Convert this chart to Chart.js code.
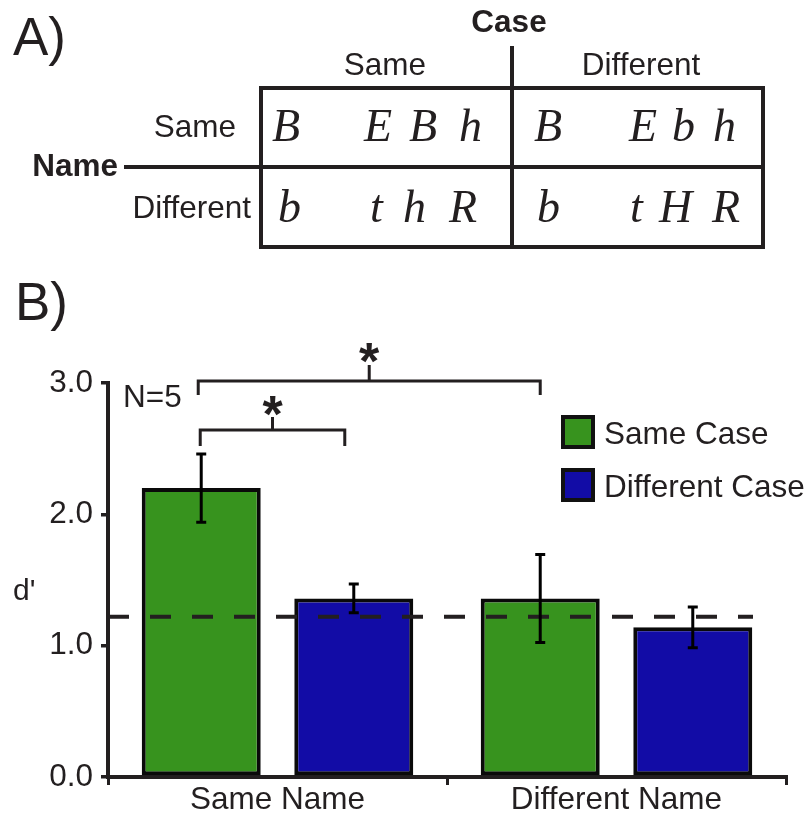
<!DOCTYPE html>
<html>
<head>
<meta charset="utf-8">
<script src="https://cdn.jsdelivr.net/npm/chart.js@4.4.0/dist/chart.umd.min.js"></script>
<style>
  html, body { margin: 0; padding: 0; background: #fff; }
  #wrap { position: relative; width: 809px; height: 814px; overflow: hidden; }
  #panelA { position: absolute; left: 0; top: 0; }
  #chart { position: absolute; left: 0; top: 0; }
</style>
</head>
<body>
<div id="wrap">
  <canvas id="chart" width="809" height="814"></canvas>
  <svg id="panelA" width="809" height="260" xmlns="http://www.w3.org/2000/svg">
    <g fill="#231F20" font-family="'Liberation Sans', Arial, Helvetica, sans-serif">
      <text x="13" y="55" font-size="53">A)</text>
      <text x="509" y="32" font-size="31.5" font-weight="bold" text-anchor="middle">Case</text>
      <text x="385" y="75" font-size="31.5" text-anchor="middle">Same</text>
      <text x="641" y="75" font-size="31.5" text-anchor="middle">Different</text>
      <text x="118" y="176" font-size="31.5" font-weight="bold" text-anchor="end">Name</text>
      <text x="236" y="137" font-size="31.5" text-anchor="end">Same</text>
      <text x="251" y="218" font-size="31.5" text-anchor="end">Different</text>
    </g>
    <g stroke="#231F20" stroke-width="4" fill="none">
      <rect x="261" y="88" width="502" height="159"/>
      <line x1="124" y1="167" x2="763" y2="167"/>
      <line x1="512" y1="46" x2="512" y2="247"/>
    </g>
    <g fill="#231F20" font-family="'Liberation Serif', 'Times New Roman', serif" font-style="italic" font-size="46">
      <text x="272" y="141">B</text>
      <text x="364" y="141">E</text>
      <text x="409" y="141">B</text>
      <text x="459" y="141">h</text>
      <text x="534" y="141">B</text>
      <text x="629" y="141">E</text>
      <text x="672" y="141">b</text>
      <text x="713" y="141">h</text>
      <text x="278" y="222">b</text>
      <text x="370" y="222">t</text>
      <text x="403" y="222">h</text>
      <text x="449" y="222">R</text>
      <text x="537" y="222">b</text>
      <text x="630" y="222">t</text>
      <text x="659" y="222">H</text>
      <text x="712" y="222">R</text>
    </g>
  </svg>
</div>
<script>
// ---- data ----
const categories = ['Same Name', 'Different Name'];
const seriesNames = ['Same Case', 'Different Case'];
const sameCaseValues = [2.2, 1.36];
const sameCaseErrors = [0.26, 0.335];
const differentCaseValues = [1.36, 1.14];
const differentCaseErrors = [0.11, 0.155];
const yTickValues = [0, 1, 2, 3];
const chanceLevel = 1.22;
const sampleSizeLabel = 'N=5';
const yAxisLabel = "d'";
const panelLabel = 'B)';
// significance comparisons: [datasetIndex, categoryIndex] pairs, bracket level in d' units
const comparisons = [
  { from: [0, 0], to: [1, 0], level: 2.64, label: '*' },
  { from: [0, 0], to: [0, 1], level: 3.015, label: '*' }
];

// ---- styles ----
const INK = '#231F20';
const FONT = "'Liberation Sans', Arial, Helvetica, sans-serif";
const FS = 31.5;
const GREEN = '#37931E';
const BLUE = '#120CA6';
const bracketStyle = [
  { legDrop: 16, stem: 13, fromShift: -1, toShift: -9, starTop: 395 },
  { legDrop: 14, stem: 16, fromShift: -3, toShift: 0, starTop: 342 }
];

const annotations = {
  id: 'annotations',
  afterDatasetsDraw(chart) {
    const ctx = chart.ctx;
    const y = chart.scales.y;
    const area = chart.chartArea;
    ctx.save();
    // chance-level dashed line
    ctx.strokeStyle = INK;
    ctx.lineWidth = 4;
    ctx.setLineDash([21, 21]);
    ctx.beginPath();
    const cy = y.getPixelForValue(chanceLevel);
    ctx.moveTo(area.left, cy);
    ctx.lineTo(753, cy);
    ctx.stroke();
    ctx.setLineDash([]);
    // error bars
    const errs = [sameCaseErrors, differentCaseErrors];
    ctx.strokeStyle = '#000';
    ctx.lineWidth = 3;
    chart.data.datasets.forEach((ds, di) => {
      const meta = chart.getDatasetMeta(di);
      meta.data.forEach((bar, i) => {
        const v = ds.data[i];
        const e = errs[di][i];
        const yt = y.getPixelForValue(v + e);
        const yb = y.getPixelForValue(v - e);
        ctx.beginPath();
        ctx.moveTo(bar.x, yt); ctx.lineTo(bar.x, yb);
        ctx.moveTo(bar.x - 5, yt); ctx.lineTo(bar.x + 5, yt);
        ctx.moveTo(bar.x - 5, yb); ctx.lineTo(bar.x + 5, yb);
        ctx.stroke();
      });
    });
    ctx.restore();
  },
  afterDraw(chart) {
    const ctx = chart.ctx;
    const y = chart.scales.y;
    ctx.save();
    ctx.fillStyle = INK;
    ctx.textBaseline = 'alphabetic';
    // panel label
    ctx.font = '53px ' + FONT;
    ctx.textAlign = 'left';
    ctx.fillText(panelLabel, 15, 320);
    // y label
    ctx.font = '30px ' + FONT;
    ctx.fillText(yAxisLabel, 13, 600);
    // N
    ctx.font = FS + 'px ' + FONT;
    ctx.fillText(sampleSizeLabel, 123, 407);
    // significance brackets
    ctx.strokeStyle = INK;
    ctx.lineWidth = 3;
    comparisons.forEach((c, k) => {
      const st = bracketStyle[k];
      const b1 = chart.getDatasetMeta(c.from[0]).data[c.from[1]];
      const b2 = chart.getDatasetMeta(c.to[0]).data[c.to[1]];
      const x1 = b1.x + st.fromShift, x2 = b2.x + st.toShift;
      const ly = Math.round(y.getPixelForValue(c.level));
      const xm = (x1 + x2) / 2;
      ctx.beginPath();
      ctx.moveTo(x1, ly + st.legDrop); ctx.lineTo(x1, ly); ctx.lineTo(x2, ly); ctx.lineTo(x2, ly + st.legDrop);
      ctx.moveTo(xm, ly); ctx.lineTo(xm, ly - st.stem);
      ctx.stroke();
      ctx.font = 'bold 52px ' + FONT;
      ctx.textAlign = 'center';
      ctx.fillText(c.label, xm, st.starTop + 0.716 * 52);
    });
    // legend
    const colors = [GREEN, BLUE];
    const boxTops = [415, 468];
    seriesNames.forEach((name, i) => {
      ctx.fillStyle = '#111';
      ctx.fillRect(561, boxTops[i], 34, 34);
      ctx.fillStyle = colors[i];
      ctx.fillRect(565, boxTops[i] + 4, 26, 26);
      ctx.fillStyle = INK;
      ctx.font = FS + 'px ' + FONT;
      ctx.textAlign = 'left';
      ctx.fillText(name, 604, boxTops[i] + 29);
    });
    ctx.restore();
  }
};

new Chart(document.getElementById('chart'), {
  type: 'bar',
  data: {
    labels: categories,
    datasets: [
      { label: seriesNames[0], data: sameCaseValues, backgroundColor: GREEN },
      { label: seriesNames[1], data: differentCaseValues, backgroundColor: BLUE }
    ]
  },
  options: {
    responsive: false,
    animation: false,
    devicePixelRatio: 1,
    layout: { padding: { top: 383, right: 23, bottom: 0, left: 0 } },
    datasets: {
      bar: {
        categoryPercentage: 0.9,
        barPercentage: 0.78,
        borderColor: '#0a0a0a',
        borderWidth: 4,
        borderSkipped: false
      }
    },
    plugins: { legend: { display: false }, tooltip: { enabled: false } },
    scales: {
      x: {
        offset: true,
        grid: { display: true, offset: true, drawOnChartArea: false, drawTicks: true, tickLength: 8, lineWidth: 3, color: INK },
        border: { display: true, width: 4, color: INK },
        ticks: { font: { family: FONT, size: FS }, color: INK, padding: -4, maxRotation: 0 },
        afterFit(s) { s.height = 37; }
      },
      y: {
        min: 0,
        max: 3,
        afterBuildTicks(s) { s.ticks = yTickValues.map(v => ({ value: v })); },
        ticks: { font: { family: FONT, size: FS }, color: INK, padding: 8, callback: v => Number(v).toFixed(1) },
        grid: { display: true, drawOnChartArea: false, drawTicks: true, tickLength: 7, lineWidth: 3.5, color: INK },
        border: { display: true, width: 4, color: INK },
        afterFit(s) { s.width = 108; }
      }
    }
  },
  plugins: [annotations]
});
</script>
</body>
</html>
